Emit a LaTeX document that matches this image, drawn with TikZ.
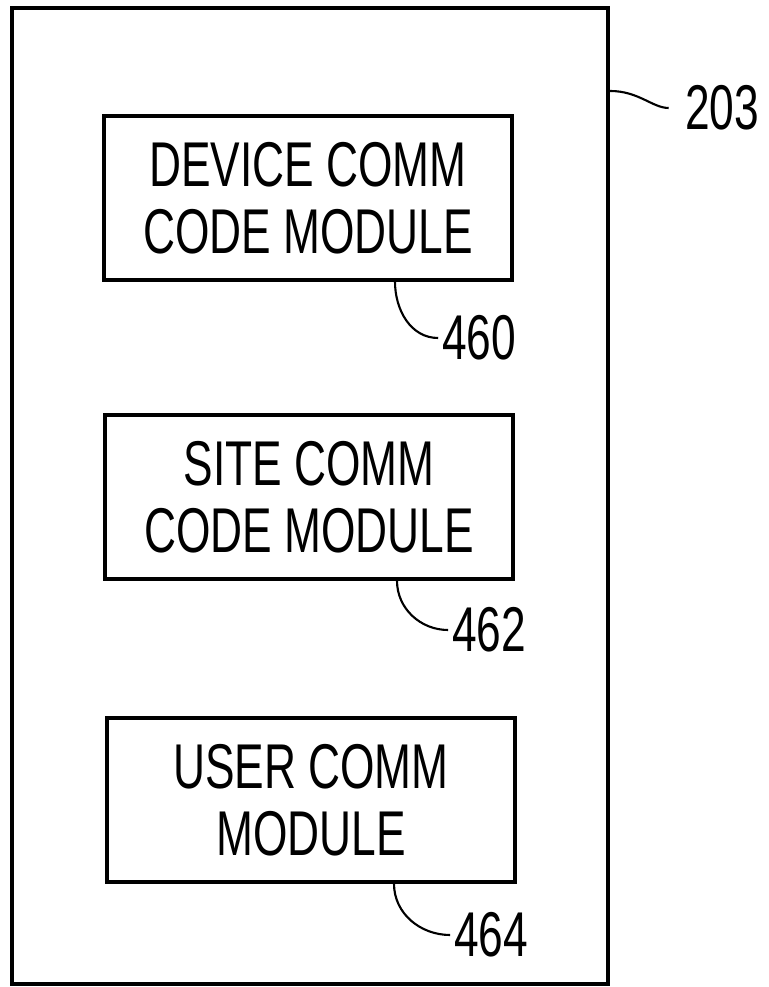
\documentclass[tikz,border=0pt]{standalone}
\usepackage{fontspec}
\newfontfamily\narrowfont{Liberation Sans}[FakeStretch=0.7]
\usepackage{tikz}

\tikzset{
	module/.style={draw, line width=2pt, minimum width=81.6mm, minimum height=32.8mm,
		align=center, font=\narrowfont\fontsize{36}{38}\selectfont},
	refnum/.style={inner sep=2pt, font=\narrowfont\fontsize{36}{38}\selectfont},
	leader/.style={line width=1.2pt}
}

\begin{document}
\begin{tikzpicture}[x=0.2mm, y=-0.2mm]
			
			\useasboundingbox (0, 0) rectangle (769, 987);
			
			\node [draw, line width=2.3pt, minimum width=119.2mm, minimum height=195.2mm] (frame) at (310, 496) {};
			
			\node [module] (device) at (308, 198) {DEVICE COMM\\CODE MODULE};
			\node [module] (site) at (309, 497) {SITE COMM\\CODE MODULE};
			\node [module] (user) at (311, 800) {USER COMM\\MODULE};
			
			\node [refnum] (n203) at (722, 108) {203};
			\node [refnum] (n460) at (479, 338) {460};
			\node [refnum] (n462) at (489, 630) {462};
			\node [refnum] (n464) at (491, 935) {464};
			
			%\draw [leader] (frame.east) -- (n203.west);
			\draw [leader, shorten >=2.5mm] ([yshift=-17mm]frame.north east) to [out=0, in=180] (n203.west);
			\draw [leader] ([xshift=17.4mm]device.south) to [out=-90, in=180] (n460.west);
			\draw [leader] ([xshift=17.6mm]site.south) to [out=-90, in=180] (n462.west);
			\draw [leader] ([xshift=16.6mm]user.south) to [out=-90, in=180] (n464.west);
			
			\end{tikzpicture}
\end{document}
